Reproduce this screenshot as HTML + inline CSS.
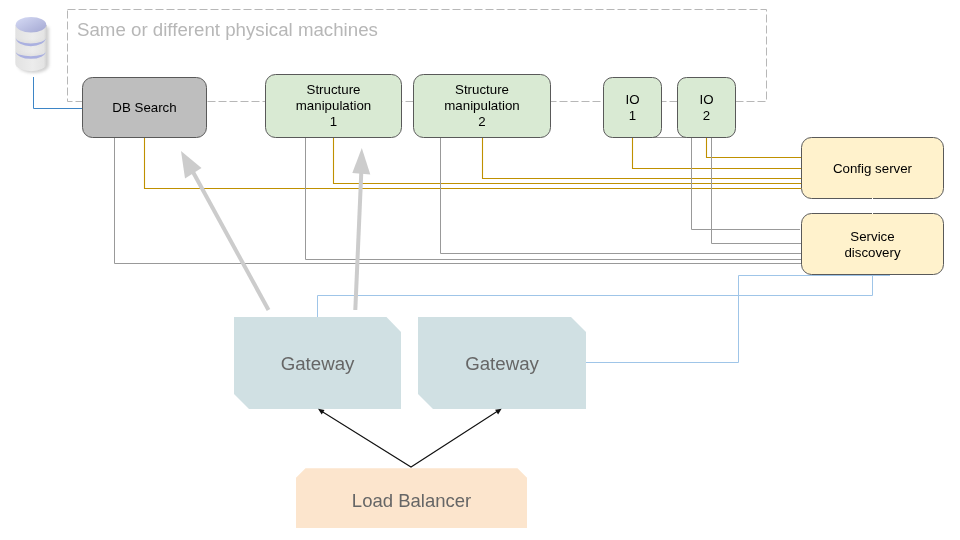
<!DOCTYPE html>
<html><head><meta charset="utf-8">
<style>
html,body{margin:0;padding:0;background:#fff;width:960px;height:540px;overflow:hidden}
svg{display:block;will-change:transform;font-family:"Liberation Sans",sans-serif}
</style></head><body>
<svg width="960" height="540" viewBox="0 0 960 540">
<defs>
  <linearGradient id="dbtop" x1="0" y1="0" x2="1" y2="1">
    <stop offset="0" stop-color="#d6dbf5"/>
    <stop offset="1" stop-color="#a3a7d2"/>
  </linearGradient>
  <linearGradient id="dbbody" x1="0" y1="0" x2="1" y2="0">
    <stop offset="0" stop-color="#e2e2e2"/>
    <stop offset="0.55" stop-color="#ececec"/>
    <stop offset="0.9" stop-color="#e4e4e4"/>
    <stop offset="1" stop-color="#cfcfcf"/>
  </linearGradient>
  <filter id="blur1" x="-30%" y="-30%" width="160%" height="160%"><feGaussianBlur stdDeviation="1.6"/></filter>
  <filter id="blur2" x="-10%" y="-50%" width="120%" height="200%"><feGaussianBlur stdDeviation="0.45"/></filter>
</defs>

<!-- dashed container -->
<rect x="67.5" y="9.5" width="699" height="92" fill="none" stroke="#b7b7b7" stroke-width="1" stroke-dasharray="8 3"/>
<text x="77" y="35.5" font-size="18.7" fill="#b7b7b7">Same or different physical machines</text>

<!-- database icon -->
<g>
  <path d="M17 26 L17 64 A15.5 8 0 0 0 48 64 L48 26 Z" fill="#9a9a9a" opacity="0.45" filter="url(#blur1)" transform="translate(1,1)"/>
  <path d="M15.3 25 L15.3 63 A15.8 8.2 0 0 0 46.9 63 L46.9 25 Z" fill="url(#dbbody)"/>
  <path d="M15.8 37.8 A15 8.3 0 0 0 45.8 37.8 A15 5.2 0 0 1 15.8 37.8 Z" fill="#d2d2d2" opacity="0.5" filter="url(#blur1)" transform="translate(0,-1.2)"/>
  <path d="M15.8 51.4 A15 7.2 0 0 0 45.8 51.4 A15 4.6 0 0 1 15.8 51.4 Z" fill="#d2d2d2" opacity="0.5" filter="url(#blur1)" transform="translate(0,-1.2)"/>
  <path d="M15.8 37.8 A15 8.5 0 0 0 45.8 37.8 A15 5.6 0 0 1 15.8 37.8 Z" fill="#aab0e0" filter="url(#blur2)"/>
  <path d="M15.8 51.4 A15 7.4 0 0 0 45.8 51.4 A15 4.8 0 0 1 15.8 51.4 Z" fill="#aab0e0" filter="url(#blur2)"/>
  <ellipse cx="31" cy="24.8" rx="15.3" ry="7.8" fill="url(#dbtop)"/>
</g>

<!-- connector lines (orange) -->
<g fill="none" stroke="#bf9000" stroke-width="1.1">
  <polyline points="144.5,137 144.5,188.5 801,188.5"/>
  <polyline points="333.5,137 333.5,183.5 801,183.5"/>
  <polyline points="482.5,137 482.5,178.5 801,178.5"/>
  <polyline points="632.5,137 632.5,168.5 801,168.5"/>
  <polyline points="706.5,137 706.5,157.5 801,157.5"/>
</g>
<!-- connector lines (grey) -->
<g fill="none" stroke="#999999" stroke-width="1">
  <polyline points="114.5,137 114.5,263.5 801,263.5"/>
  <polyline points="305.5,137 305.5,259.5 801,259.5"/>
  <polyline points="440.5,137 440.5,253.5 801,253.5"/>
  <polyline points="632,137.5 691.5,137.5 691.5,229.5 800,229.5"/>
  <polyline points="711.5,137 711.5,243.5 801,243.5"/>
</g>
<!-- blue lines -->
<g fill="none" stroke="#9fc5e8" stroke-width="1">
  <polyline points="317.5,317 317.5,295.5 872.5,295.5 872.5,274"/>
  <polyline points="585,362.5 738.5,362.5 738.5,275.5 890,275.5"/>
</g>
<polyline points="33.5,77 33.5,108.5 82,108.5" fill="none" stroke="#3d85c6" stroke-width="1"/>

<!-- boxes -->
<g stroke="#595959" stroke-width="1">
  <rect x="82.5" y="77.5" width="124" height="60" rx="10" fill="#bebebe"/>
  <rect x="265.5" y="74.5" width="136" height="63" rx="10" fill="#d9ead3"/>
  <rect x="413.5" y="74.5" width="137" height="63" rx="10" fill="#d9ead3"/>
  <rect x="603.5" y="77.5" width="58" height="60" rx="9" fill="#d9ead3"/>
  <rect x="677.5" y="77.5" width="58" height="60" rx="9" fill="#d9ead3"/>
  <rect x="801.5" y="137.5" width="142" height="61" rx="10" fill="#fff2cc"/>
  <rect x="801.5" y="213.5" width="142" height="61" rx="10" fill="#fff2cc"/>
</g>

<g font-size="13.3" fill="#000" text-anchor="middle">
  <text x="144.5" y="112">DB Search</text>
  <text x="333.5" y="94.4">Structure</text>
  <text x="333.5" y="110.1">manipulation</text>
  <text x="333.5" y="126.1">1</text>
  <text x="482" y="94.4">Structure</text>
  <text x="482" y="110.1">manipulation</text>
  <text x="482" y="126.1">2</text>
  <text x="632.5" y="103.8">IO</text>
  <text x="632.5" y="119.6">1</text>
  <text x="706.5" y="103.8">IO</text>
  <text x="706.5" y="119.6">2</text>
  <text x="872.5" y="173">Config server</text>
  <text x="872.5" y="240.5">Service</text>
  <text x="872.5" y="256.6">discovery</text>
</g>

<line x1="872.5" y1="198" x2="872.5" y2="214" stroke="#fff" stroke-width="1"/>
<!-- gateways -->
<path d="M234 317 L386.5 317 L401 332 L401 409 L249 409 L234 394 Z" fill="#d0e0e3"/>
<path d="M418 317 L571 317 L586 332 L586 409 L433 409 L418 394 Z" fill="#d0e0e3"/>
<g font-size="18.7" fill="#666666" text-anchor="middle">
  <text x="317.5" y="369.5">Gateway</text>
  <text x="502" y="369.5">Gateway</text>
</g>

<!-- load balancer -->
<path d="M305.5 468.2 L517.5 468.2 L527 477.7 L527 528 L296 528 L296 477.7 Z" fill="#fce5cd"/>
<text x="411.5" y="507" font-size="18.5" fill="#666666" text-anchor="middle">Load Balancer</text>

<!-- thick grey arrows -->
<g fill="#cccccc" stroke="none">
  <line x1="268.5" y1="310" x2="193" y2="172" stroke="#cccccc" stroke-width="4"/>
  <polygon points="181,151 185,178.5 201.5,168"/>
  <line x1="355.3" y1="310" x2="361.3" y2="172" stroke="#cccccc" stroke-width="4"/>
  <polygon points="361.8,148 352.3,173 370.3,174.4"/>
</g>

<!-- black arrows -->
<g stroke="#111" stroke-width="1.1" fill="none">
  <polyline points="322,411.5 411,467 497,411.5"/>
</g>
<g fill="#111">
  <polygon points="318,408.8 324.5,409.9 321.7,414.5"/>
  <polygon points="501.6,408.7 498.1,414.4 495.1,409.8"/>
</g>
</svg>
</body></html>
